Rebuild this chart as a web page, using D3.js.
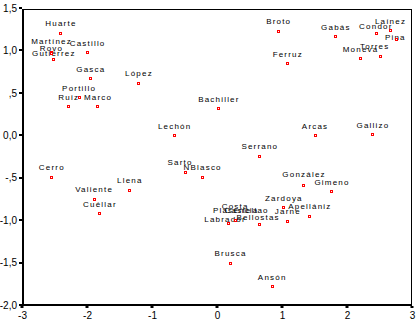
<!DOCTYPE html>
<html><head><meta charset="utf-8">
<script src="https://cdn.jsdelivr.net/npm/d3@7"></script>
<style>body{margin:0;background:#fff} svg{display:block}</style>
</head><body><svg id="c" width="419" height="323"></svg>
<script>
const names = ["Huarte","Martínez","Rovo","Gutiérrez","Castillo","Gasca","López","Portillo","Ruiz","Marco",
  "Broto","Gabás","Condor","Laínez","Pina","Torres","Moneva","Ferruz","Bachiller","Lechón",
  "Cerro","Llena","Valiente","Cuéllar","Sarto","NBlasco","Arcas","Gallizo","Serrano","González",
  "Gimeno","Zardoya","Apellániz","Jarne","Bellostas","Labrador","Costa","Plasencia","Castellao","Brusca","Ansón"];
const xValues = [-2.41,-2.56,-2.56,-2.53,-2.00,-1.95,-1.21,-2.13,-2.29,-1.84,
  0.94,1.82,2.45,2.66,2.75,2.51,2.20,1.08,0.02,-0.66,
  -2.55,-1.35,-1.90,-1.81,-0.50,-0.23,1.50,2.39,0.65,1.33,
  1.76,1.02,1.42,1.08,0.65,0.17,0.27,0.27,0.27,0.20,0.84];
const yValues = [1.21,0.98,0.97,0.90,0.98,0.67,0.62,0.45,0.34,0.34,
  1.23,1.17,1.21,1.24,1.14,0.94,0.91,0.85,0.32,0.00,
  -0.49,-0.64,-0.75,-0.92,-0.43,-0.49,0.00,0.01,-0.24,-0.59,
  -0.66,-0.85,-0.95,-1.01,-1.04,-1.03,-1.00,-1.00,-1.00,-1.50,-1.78];
const xTicks = [-3,-2,-1,0,1,2,3];
const xTickLabels = ["-3","-2","-1","0","1","2","3"];
const yTicks = [1.5,1.0,0.5,0,-0.5,-1.0,-1.5,-2.0];
const yTickLabels = ["1,5","1,0",",5","0,0","-,5","-1,0","-1,5","-2,0"];
// label placement tweaks (layout only)
const labelNudge = {"Martínez":[0.4,-1.5],"Rovo":[0.2,5],"Gutiérrez":[0.7,4],"Pina":[-1,8],"Torres":[-6,0],
  "Condor":[-1,3],"Sarto":[-5,0],"Bellostas":[-1.7,3.2],"Labrador":[-3.6,6],"Costa":[0,-4.8],
  "Plasencia":[0.5,-0.5],"Castellao":[11.5,-0.5],"González":[0,-1.5]};

const svg = d3.select("#c");
const x = d3.scaleLinear().domain([-3,3]).range([22,412]);
const y = d3.scaleLinear().domain([-2,1.5]).range([305,8]);
const font = "'Liberation Sans', Arial, sans-serif";

// frame
svg.append("line").attr("x1",22).attr("x2",412).attr("y1",9.5).attr("y2",9.5).attr("stroke","#000").attr("stroke-width",1);
svg.append("line").attr("x1",411.5).attr("x2",411.5).attr("y1",9).attr("y2",305).attr("stroke","#000").attr("stroke-width",1);
svg.append("rect").attr("x",22).attr("y",9).attr("width",2).attr("height",297).attr("fill","#000");
svg.append("rect").attr("x",22).attr("y",304).attr("width",390).attr("height",2).attr("fill","#000");

// axes (labels)
const gx = svg.append("g").attr("transform","translate(0,304)")
  .call(d3.axisBottom(x).tickValues(xTicks).tickSize(0).tickPadding(8).tickFormat((d,i)=>xTickLabels[i]));
const gy = svg.append("g").attr("transform","translate(22,0)")
  .call(d3.axisLeft(y).tickValues(yTicks).tickSize(0).tickPadding(5).tickFormat((d,i)=>yTickLabels[i]));
[gx,gy].forEach(g=>{g.select(".domain").remove();
  g.selectAll("text").attr("font-family",font).attr("font-size",10).attr("fill","#000");});

// tick marks
svg.selectAll(".xt").data(xTicks).enter().append("rect")
  .attr("x",d=>Math.round(x(d))-1.5).attr("y",306).attr("width",3).attr("height",2).attr("fill","#000");
svg.selectAll(".yt").data(yTicks).enter().append("rect")
  .attr("x",19).attr("y",d=>Math.round(y(d))-1).attr("width",3).attr("height",2).attr("fill","#000");

const pts = names.map((n,i)=>({n, x:xValues[i], y:yValues[i]}));

// labels
svg.selectAll(".lab").data(pts).enter().append("text")
  .attr("x",d=>x(d.x)+0.6+(labelNudge[d.n]?labelNudge[d.n][0]:0))
  .attr("y",d=>y(d.y)-6.5+(labelNudge[d.n]?labelNudge[d.n][1]:0))
  .attr("text-anchor","middle").attr("font-family",font).attr("font-size",8)
  .attr("letter-spacing","1.2px").attr("fill","#000").text(d=>d.n);

// markers
svg.selectAll(".pt").data(pts).enter().append("rect")
  .attr("x",d=>Math.round(x(d.x))-0.5).attr("y",d=>Math.round(y(d.y))-0.5)
  .attr("width",2).attr("height",2).attr("fill","#fff").attr("stroke","#f00").attr("stroke-width",1);
</script></body></html>
